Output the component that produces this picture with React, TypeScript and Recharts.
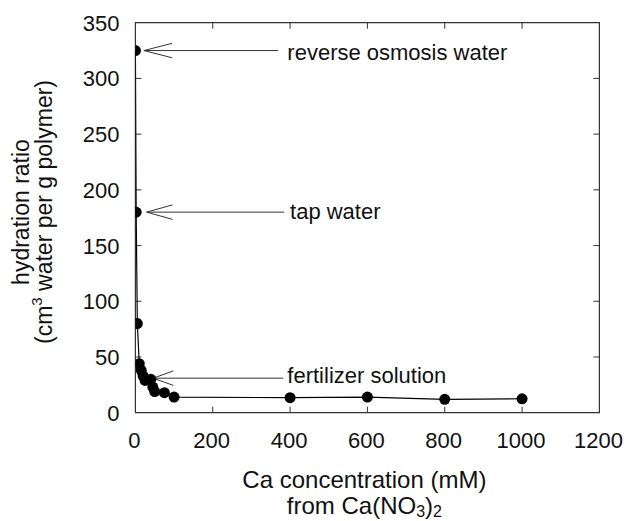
import React from 'react';
import { ComposedChart, Line, XAxis, YAxis, ReferenceLine, ReferenceDot, ReferenceArea, Label } from 'recharts';

const concentrations = [0, 2, 5, 10, 15, 20, 25, 40, 45, 50, 75, 100, 400, 600, 800, 1000];
const hydrationRatios = [325, 180, 80, 44, 38, 33, 29, 30, 23, 19, 18, 14, 13.5, 14, 12, 12.5];
const xTicks = [0, 200, 400, 600, 800, 1000, 1200];
const yTicks = [0, 50, 100, 150, 200, 250, 300, 350];

const annotationLabels = ['reverse osmosis water', 'tap water', 'fertilizer solution'];
const annotationY = [325, 180, 31];
const annotationTipX = [22, 29, 46];
const annotationBarbX = [95, 96, 98];
const annotationEndX = [369, 385, 382];
const annotationLabelX = [380, 387, 380];
const annotationLabelY = [324, 181, 33.4];
const barbDy = 6.5;

const X_MIN = 0;
const X_MAX = 1200;
const Y_MIN = 0;
const Y_MAX = 350;
const X_TICK_LEN = 5.4; // in y units (~6px)
const Y_TICK_LEN = 15.5; // in x units (~6px)

const data = concentrations.map((c, i) => ({ conc: c, ratio: hydrationRatios[i] }));

const FONT = '"Liberation Sans", Arial, Helvetica, sans-serif';
const AXIS = '#333';

const XTick = (props: any) => {
  const { x, y, payload } = props;
  return (
    <text x={x - 1} y={y + 35} textAnchor="middle" fontSize={22} fill="#111" fontFamily={FONT}>
      {payload.value}
    </text>
  );
};

const YTick = (props: any) => {
  const { x, y, payload } = props;
  return (
    <text x={x - 16} y={y + 8} textAnchor="end" fontSize={22} fill="#111" fontFamily={FONT}>
      {payload.value}
    </text>
  );
};

const XTitle = (props: any) => {
  const vb = props.viewBox;
  const cx = vb.x + vb.width / 2 - 3;
  return (
    <g fontFamily={FONT} fill="#111">
      <text x={cx} y={488} textAnchor="middle" fontSize={24}>Ca concentration (mM)</text>
      <text x={cx} y={514} textAnchor="middle" fontSize={24}>
        from Ca(NO
        <tspan fontSize={16} dy={3}>3</tspan>
        <tspan dy={-3}>)</tspan>
        <tspan fontSize={16} dy={3}>2</tspan>
      </text>
    </g>
  );
};

const YTitle = () => {
  const cy = 212;
  const x1 = 29;
  const x2 = 52;
  return (
    <g fontFamily={FONT} fill="#111">
      <text x={x1} y={cy} textAnchor="middle" fontSize={23} transform={`rotate(-90, ${x1}, ${cy})`}>
        hydration ratio
      </text>
      <text x={x2} y={cy} textAnchor="middle" fontSize={23} transform={`rotate(-90, ${x2}, ${cy})`}>
        (cm
        <tspan fontSize={15} dy={-10}>3</tspan>
        <tspan dy={10}> water per g polymer)</tspan>
      </text>
    </g>
  );
};

const AnnoLabel = (text: string) => (props: any) => {
  const vb = props.viewBox;
  return (
    <text x={vb.x + 5} y={vb.y + 8} fontSize={22} fill="#111" fontFamily={FONT}>
      {text}
    </text>
  );
};

export default function App() {
  const innerX = xTicks.filter((t) => t > X_MIN && t < X_MAX);
  const innerY = yTicks.filter((t) => t > Y_MIN && t < Y_MAX);
  return (
    <div style={{ position: 'absolute', left: 0, top: 0, fontFamily: FONT, background: '#fff' }}>
      <ComposedChart
        width={629}
        height={521}
        data={data}
        margin={{ top: 22.7, right: 29.6, bottom: 68.3, left: 75.4 }}
      >
        <XAxis
          dataKey="conc"
          type="number"
          domain={[X_MIN, X_MAX]}
          ticks={xTicks}
          interval={0}
          allowDataOverflow
          tickSize={0}
          tickMargin={0}
          tickLine={false}
          height={40}
          axisLine={false}
          tick={XTick}
        >
          <Label content={XTitle} />
        </XAxis>
        <YAxis
          type="number"
          domain={[Y_MIN, Y_MAX]}
          ticks={yTicks}
          interval={0}
          allowDataOverflow
          tickSize={0}
          tickMargin={0}
          tickLine={false}
          width={60}
          axisLine={false}
          tick={YTick}
        >
          <Label content={YTitle} />
        </YAxis>
        <ReferenceArea
          x1={X_MIN}
          x2={X_MAX}
          y1={Y_MIN}
          y2={Y_MAX}
          fill="none"
          fillOpacity={0}
          stroke={AXIS}
          strokeWidth={1.2}
          ifOverflow="visible"
        />
        {innerX.map((t) => (
          <ReferenceLine
            key={'xb' + t}
            segment={[{ x: t, y: Y_MIN }, { x: t, y: Y_MIN + X_TICK_LEN }]}
            stroke={AXIS}
            strokeWidth={1}
            ifOverflow="visible"
          />
        ))}
        {innerX.map((t) => (
          <ReferenceLine
            key={'xt' + t}
            segment={[{ x: t, y: Y_MAX }, { x: t, y: Y_MAX - X_TICK_LEN }]}
            stroke={AXIS}
            strokeWidth={1}
            ifOverflow="visible"
          />
        ))}
        {innerY.map((t) => (
          <ReferenceLine
            key={'yl' + t}
            segment={[{ x: X_MIN, y: t }, { x: X_MIN + Y_TICK_LEN, y: t }]}
            stroke={AXIS}
            strokeWidth={1}
            ifOverflow="visible"
          />
        ))}
        {innerY.map((t) => (
          <ReferenceLine
            key={'yr' + t}
            segment={[{ x: X_MAX, y: t }, { x: X_MAX - Y_TICK_LEN, y: t }]}
            stroke={AXIS}
            strokeWidth={1}
            ifOverflow="visible"
          />
        ))}
        {annotationLabels.map((lab, i) => (
          <ReferenceLine
            key={'m' + i}
            segment={[{ x: annotationTipX[i], y: annotationY[i] }, { x: annotationEndX[i], y: annotationY[i] }]}
            stroke="#333"
            strokeWidth={1}
            ifOverflow="visible"
          />
        ))}
        {annotationLabels.map((lab, i) => (
          <ReferenceLine
            key={'a' + i}
            segment={[{ x: annotationTipX[i], y: annotationY[i] }, { x: annotationBarbX[i], y: annotationY[i] + barbDy }]}
            stroke="#333"
            strokeWidth={1}
            ifOverflow="visible"
          />
        ))}
        {annotationLabels.map((lab, i) => (
          <ReferenceLine
            key={'b' + i}
            segment={[{ x: annotationTipX[i], y: annotationY[i] }, { x: annotationBarbX[i], y: annotationY[i] - barbDy }]}
            stroke="#333"
            strokeWidth={1}
            ifOverflow="visible"
          />
        ))}
        {annotationLabels.map((lab, i) => (
          <ReferenceDot
            key={'l' + i}
            x={annotationLabelX[i]}
            y={annotationLabelY[i]}
            r={0}
            fill="none"
            stroke="none"
            ifOverflow="visible"
            label={AnnoLabel(lab)}
          />
        ))}
        <Line
          type="linear"
          dataKey="ratio"
          stroke="#000"
          strokeWidth={1.2}
          dot={{ r: 5.5, fill: '#000', stroke: 'none' }}
          isAnimationActive={false}
        />
      </ComposedChart>
    </div>
  );
}
